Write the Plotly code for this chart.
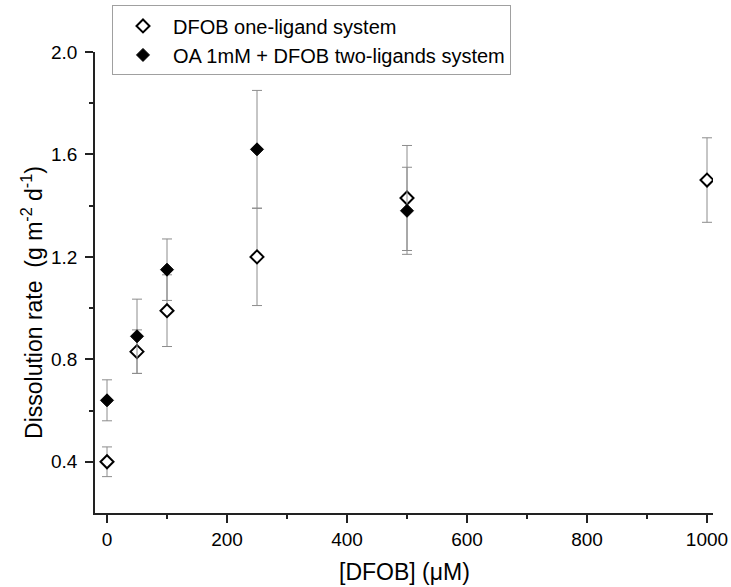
import plotly.graph_objects as go

# Data
dfob_x = [0, 50, 100, 250, 500, 1000]
one_ligand_y = [0.40, 0.83, 0.99, 1.20, 1.43, 1.50]
one_ligand_err = [0.058, 0.085, 0.14, 0.19, 0.205, 0.165]

two_x = [0, 50, 100, 250, 500]
two_ligand_y = [0.64, 0.89, 1.15, 1.62, 1.38]
two_ligand_err = [0.08, 0.145, 0.12, 0.23, 0.17]

x_ticks = [0, 200, 400, 600, 800, 1000]
x_minor = [100, 300, 500, 700, 900]
y_ticks = [0.4, 0.8, 1.2, 1.6, 2.0]
y_tick_text = ["0.4", "0.8", "1.2", "1.6", "2.0"]
y_minor = [0.6, 1.0, 1.4, 1.8]

x_title = "[DFOB] (μM)"
y_title = "Dissolution rate\u00a0\u00a0(g m<sup>-2</sup> d<sup>-1</sup>)"

FONT = "Liberation Sans, Arial, sans-serif"
ERRC = "#8c8c8c"
AX = "#222222"

fig = go.Figure()
fig.add_trace(go.Scatter(
    x=dfob_x, y=one_ligand_y, mode="markers",
    name="DFOB one-ligand system",
    marker=dict(symbol="diamond", size=10, color="white",
                line=dict(color="black", width=2)),
    error_y=dict(type="data", array=one_ligand_err, visible=True,
                 color=ERRC, thickness=1, width=5),
))
fig.add_trace(go.Scatter(
    x=two_x, y=two_ligand_y, mode="markers",
    name="OA 1mM + DFOB two-ligands system",
    marker=dict(symbol="diamond", size=10, color="black",
                line=dict(color="black", width=1)),
    error_y=dict(type="data", array=two_ligand_err, visible=True,
                 color=ERRC, thickness=1, width=5),
))

fig.update_layout(
    width=731, height=587,
    margin=dict(l=95, r=18, t=52, b=74, autoexpand=False),
    paper_bgcolor="white", plot_bgcolor="white",
    font=dict(family=FONT, color="black", size=19),
    showlegend=True,
    legend=dict(
        x=0.0275, y=1.101, xanchor="left", yanchor="top",
        bordercolor="#a0a0a0", borderwidth=1, bgcolor="white",
        font=dict(size=20, family=FONT), itemwidth=50,
    ),
    xaxis=dict(
        range=[-20, 1010], tickmode="array", tickvals=x_ticks,
        ticktext=[str(v) for v in x_ticks],
        ticks="outside", ticklen=8, tickwidth=1.5, tickcolor=AX,
        showline=True, linecolor=AX, linewidth=1.5,
        showgrid=False, zeroline=False, automargin=False,
        minor=dict(tickvals=x_minor, ticks="outside", ticklen=4,
                   tickwidth=1.5, tickcolor=AX, showgrid=False),
        tickfont=dict(size=19),
    ),
    yaxis=dict(
        range=[0.2, 2.0], tickmode="array", tickvals=y_ticks,
        ticktext=y_tick_text,
        ticks="outside", ticklen=8, tickwidth=1.5, tickcolor=AX,
        showline=True, linecolor=AX, linewidth=1.5,
        showgrid=False, zeroline=False, automargin=False,
        minor=dict(tickvals=y_minor, ticks="outside", ticklen=4,
                   tickwidth=1.5, tickcolor=AX, showgrid=False),
        tickfont=dict(size=19), ticklabelstandoff=4,
    ),
    annotations=[
        dict(text=y_title, xref="paper", yref="paper",
             x=-0.102, y=0.4577, xanchor="center", yanchor="middle",
             textangle=-90, showarrow=False, font=dict(size=23)),
        dict(text=x_title, xref="paper", yref="paper",
             x=0.5, y=-0.128, xanchor="center", yanchor="middle",
             showarrow=False, font=dict(size=23)),
    ],
)

fig.write_html("out.html")
